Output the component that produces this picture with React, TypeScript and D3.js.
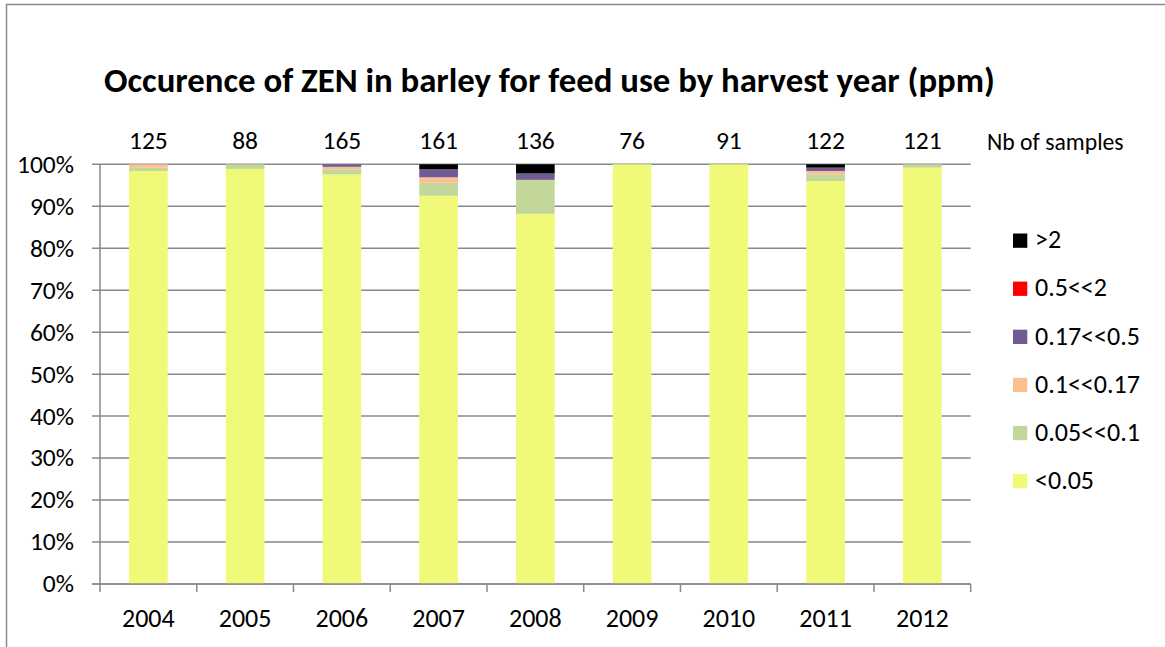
import React from "react";
import * as d3 from "d3";

const years = ["2004", "2005", "2006", "2007", "2008", "2009", "2010", "2011", "2012"];
const sampleCounts = [125, 88, 165, 161, 136, 76, 91, 122, 121];

// percentages per class
const lt005 = [98.4, 98.9, 97.6, 92.5, 88.2, 100, 100, 96.0, 99.2];
const c005_01 = [0.8, 1.1, 1.2, 3.1, 8.1, 0, 0, 1.6, 0.8];
const c01_017 = [0.8, 0, 0.6, 1.3, 0, 0, 0, 0.8, 0];
const c017_05 = [0, 0, 0.6, 1.9, 1.5, 0, 0, 0.8, 0];
const c05_2 = [0, 0, 0, 0, 0, 0, 0, 0, 0];
const gt2 = [0, 0, 0, 1.2, 2.2, 0, 0, 0.8, 0];

const seriesNames = ["<0.05", "0.05<<0.1", "0.1<<0.17", "0.17<<0.5", "0.5<<2", ">2"];
const seriesColors = ["#F0FA78", "#C4D79B", "#FAC090", "#725A93", "#FF0000", "#000000"];
const yTicks = [0, 10, 20, 30, 40, 50, 60, 70, 80, 90, 100];

const title = "Occurence of ZEN in barley for feed use by harvest year (ppm)";
const FONT = "Carlito, Calibri, 'Open Sans', sans-serif";

export default function App() {
  const W = 1165;
  const H = 647;
  const left = 100;
  const right = 970.7;
  const top = 164.3;
  const bottom = 584;

  const seriesData = [lt005, c005_01, c01_017, c017_05, c05_2, gt2];
  const rows = years.map((y, i) => {
    const r: any = { year: y };
    seriesNames.forEach((n, k) => (r[n] = seriesData[k][i]));
    return r;
  });
  const stacked = d3.stack<any>().keys(seriesNames)(rows);

  const x = d3.scaleBand<string>().domain(years).range([left, right]).paddingInner(0.6).paddingOuter(0.3);
  const xb = d3.scaleBand<string>().domain(years).range([left, right]);
  const y = d3.scaleLinear().domain([0, 100]).range([bottom, top]);

  const gridColor = "#898989";
  const legendOrder = [...seriesNames].reverse();
  const legendColors = [...seriesColors].reverse();
  const legendY = d3.scalePoint<string>().domain(legendOrder).range([233.5, 474]);

  return (
    <svg width={W} height={H} style={{ position: "absolute", left: 0, top: 0 }} fontFamily={FONT}>
      <rect x={0} y={0} width={W} height={H} fill="#fff" />
      {/* chart frame */}
      <path d={`M6.5,${H} V4.5 H${W}`} fill="none" stroke="#8a8a8a" strokeWidth={1.5} />

      {/* title */}
      <text x={104} y={92} fontSize={34.8} fontWeight="bold" fill="#000">{title}</text>

      {/* gridlines */}
      {yTicks.map((t) => (
        <line key={t} x1={92} x2={right} y1={y(t)} y2={y(t)} stroke={gridColor} strokeWidth={1.5} />
      ))}

      {/* bars */}
      {stacked.map((s, k) => (
        <g key={s.key} fill={seriesColors[k]}>
          {s.map((d, i) => {
            const h = y(d[0]) - y(d[1]);
            if (h <= 0) return null;
            return <rect key={i} x={x(years[i])} y={y(d[1])} width={x.bandwidth()} height={h} />;
          })}
        </g>
      ))}

      {/* axes */}
      <line x1={left} x2={left} y1={top} y2={bottom + 0.5} stroke={gridColor} strokeWidth={1.5} />
      <line x1={92} x2={right} y1={bottom} y2={bottom} stroke={gridColor} strokeWidth={1.5} />
      {years.map((yr) => (
        <line key={"t" + yr} x1={xb(yr)!} x2={xb(yr)!} y1={bottom} y2={bottom + 8} stroke={gridColor} strokeWidth={1.5} />
      ))}
      <line x1={right} x2={right} y1={bottom} y2={bottom + 8} stroke={gridColor} strokeWidth={1.5} />

      {/* y labels */}
      {yTicks.map((t) => (
        <text key={"yl" + t} x={74} y={y(t) + 8.4} textAnchor="end" fontSize={25.5} fill="#000">{t + "%"}</text>
      ))}

      {/* x labels */}
      {years.map((yr) => (
        <text key={"xl" + yr} x={xb(yr)! + xb.bandwidth() / 2} y={627} textAnchor="middle" fontSize={26} fill="#000">{yr}</text>
      ))}

      {/* sample counts */}
      {years.map((yr, i) => (
        <text key={"n" + yr} x={xb(yr)! + xb.bandwidth() / 2} y={148.5} textAnchor="middle" fontSize={25.5} fill="#000">{sampleCounts[i]}</text>
      ))}
      <text x={987} y={149.5} fontSize={23.7} fill="#000">Nb of samples</text>

      {/* legend */}
      {legendOrder.map((n, k) => (
        <g key={"lg" + n} transform={`translate(1013,${legendY(n)})`}>
          <rect x={0} y={0} width={14.3} height={14.3} fill={legendColors[k]} />
          <text x={22} y={14.8} fontSize={26} fill="#000">{n}</text>
        </g>
      ))}
    </svg>
  );
}
